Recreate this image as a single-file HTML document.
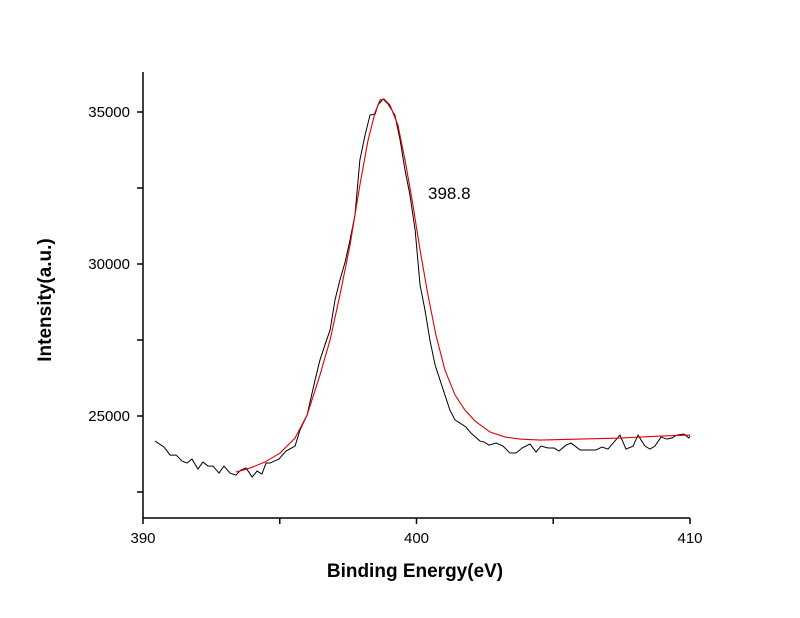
<!DOCTYPE html>
<html><head><meta charset="utf-8"><style>
body{margin:0;background:#fff;}
svg{display:block;font-family:"Liberation Sans",Arial,sans-serif;}
</style></head><body>
<svg id="chart" width="800" height="618" viewBox="0 0 800 618">
<g id="axes"></g>
<g id="series"></g>
<text x="0" y="0" transform="translate(51,300) rotate(-90)" text-anchor="middle" font-size="19" font-weight="bold">Intensity(a.u.)</text>
<text x="415" y="577" text-anchor="middle" font-size="19" font-weight="bold">Binding Energy(eV)</text>
<text x="428" y="199" font-size="17">398.8</text>
</svg>
<script>
const xTicks=[390,395,400,405,410];
const xTickLabels=["390","","400","","410"];
const yTicks=[22500,25000,27500,30000,32500,35000];
const yTickLabels=["","25000","","30000","","35000"];
const rawE=[390.44,390.77,390.99,391.21,391.43,391.61,391.79,392.01,392.19,392.38,392.56,392.78,392.96,393.18,393.40,393.58,393.77,393.99,394.17,394.35,394.50,394.64,394.97,395.23,395.56,395.74,396.00,396.29,396.47,396.65,396.84,397.02,397.20,397.39,397.57,397.75,397.93,398.12,398.30,398.49,398.59,398.78,398.96,399.21,399.40,399.58,399.76,399.95,400.13,400.31,400.49,400.68,400.86,401.04,401.22,401.41,401.59,401.81,401.99,402.32,402.47,402.65,402.91,403.16,403.42,403.64,403.86,404.15,404.37,404.55,404.81,405.03,405.21,405.47,405.65,405.80,405.98,406.34,406.56,406.78,407.00,407.22,407.44,407.66,407.92,408.10,408.35,408.54,408.72,408.94,409.16,409.34,409.52,409.78,409.96,410.00];
const rawI=[24176,23978,23715,23715,23518,23452,23584,23255,23485,23353,23353,23123,23353,23123,23057,23222,23288,22991,23189,23090,23452,23452,23584,23847,24011,24538,25031,26183,26841,27334,27828,28815,29473,30065,30789,31611,33421,34243,34901,34934,35230,35428,35263,34901,34079,33092,32269,31118,29308,28486,27499,26676,26183,25689,25196,24867,24768,24636,24439,24176,24143,24044,24110,24011,23781,23781,23946,24077,23814,24011,23946,23946,23847,24044,24110,24011,23880,23880,23880,23979,23913,24143,24373,23913,24011,24373,24011,23913,24011,24308,24242,24275,24373,24406,24275,24340];
const fitE=[393.40,393.91,394.46,395.01,395.56,396.00,396.47,396.84,397.20,397.57,397.93,398.23,398.49,398.67,398.81,399.03,399.32,399.58,399.84,400.13,400.42,400.71,401.04,401.41,401.77,402.14,402.69,403.24,403.78,404.52,405.98,407.44,408.90,410.00];
const fitI=[23156,23288,23485,23781,24275,25031,26347,27499,28979,30624,32598,34079,35000,35395,35428,35230,34572,33421,32105,30460,28979,27663,26512,25689,25196,24834,24472,24307,24241,24209,24241,24275,24340,24373];

const X0=143,X1=690,Y0=518,Y1=72;
const sx=v=>X0+(v-390)/20*(X1-X0);
const sy=v=>112+(35000-v)/5000*152;
const NS="http://www.w3.org/2000/svg";
function mk(tag,attrs,parent){const e=document.createElementNS(NS,tag);for(const k in attrs)e.setAttribute(k,attrs[k]);parent.appendChild(e);return e;}
const axes=document.getElementById('axes');
const ax=mk('line',{x1:X0,y1:Y0,x2:X1,y2:Y0,stroke:'#000','stroke-width':1.5},axes);


const ay=mk('line',{x1:X0,y1:Y0,x2:X0,y2:Y1,stroke:'#000','stroke-width':1.5},axes);


xTicks.forEach((t,i)=>{
  const tk=mk('line',{x1:sx(t),y1:Y0,x2:sx(t),y2:Y0+6,stroke:'#000','stroke-width':1.5},axes);
  
  
  if(xTickLabels[i]){const l=mk('text',{x:sx(t),y:Y0+25,'text-anchor':'middle','font-size':15},axes);l.textContent=xTickLabels[i];
  
  }
});
yTicks.forEach((t,i)=>{
  const tk=mk('line',{x1:X0-6,y1:sy(t),x2:X0,y2:sy(t),stroke:'#000','stroke-width':1.5},axes);
  
  
  if(yTickLabels[i]){const l=mk('text',{x:X0-13,y:sy(t)+5,'text-anchor':'end','font-size':15},axes);l.textContent=yTickLabels[i];
  
  }
});
const ser=document.getElementById('series');
const raw=mk('polyline',{points:rawE.map((e,i)=>sx(e)+','+sy(rawI[i])).join(' '),fill:'none',stroke:'#000','stroke-width':1},ser);


const fit=mk('polyline',{points:fitE.map((e,i)=>sx(e)+','+sy(fitI[i])).join(' '),fill:'none',stroke:'#e00000','stroke-width':1.1},ser);


</script>
</body></html>
